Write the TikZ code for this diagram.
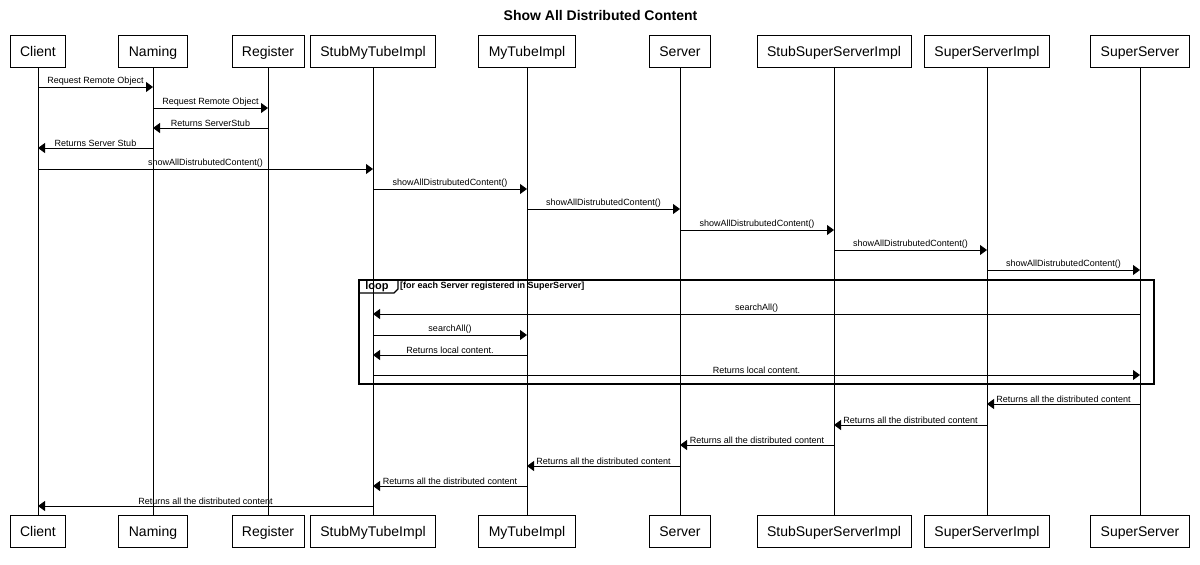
\documentclass[tikz,border=0pt]{standalone}
\usepackage{fontspec}
\setmainfont{Liberation Sans}
\usetikzlibrary{arrows.meta}

\begin{document}
\begin{tikzpicture}[x=1pt,y=-1pt,
		obj/.style={draw, line width=0.8pt, inner xsep=10pt, minimum height=32pt, text height=10.5pt, text depth=0pt, font=\fontsize{14}{16}\selectfont},
		life/.style={line width=0.8pt},
		msg/.style={line width=0.8pt, -{Triangle[length=7pt,width=10pt]}},
		lbl/.style={font=\fontsize{9}{10}\selectfont, inner sep=1pt}]
				\useasboundingbox (0,0) rectangle (1200,565);
				\node[font=\bfseries\fontsize{14}{16}\selectfont] (title) at (600.5,15) {Show All Distributed Content};
				
				% participants, top and bottom
				\node[obj] (client) at (38,51) {Client};
				\node[obj] (naming) at (153,51) {Naming};
				\node[obj] (register) at (268,51) {Register};
				\node[obj] (stub) at (373,51) {StubMyTubeImpl};
				\node[obj] (tube) at (527,51) {MyTubeImpl};
				\node[obj] (server) at (680,51) {Server};
				\node[obj] (stubsuper) at (834,51) {StubSuperServerImpl};
				\node[obj] (superimpl) at (987,51) {SuperServerImpl};
				\node[obj] (super) at (1140,51) {SuperServer};
				
				\node[obj] (client2) at (38,531.5) {Client};
				\node[obj] (naming2) at (153,531.5) {Naming};
				\node[obj] (register2) at (268,531.5) {Register};
				\node[obj] (stub2) at (373,531.5) {StubMyTubeImpl};
				\node[obj] (tube2) at (527,531.5) {MyTubeImpl};
				\node[obj] (server2) at (680,531.5) {Server};
				\node[obj] (stubsuper2) at (834,531.5) {StubSuperServerImpl};
				\node[obj] (superimpl2) at (987,531.5) {SuperServerImpl};
				\node[obj] (super2) at (1140,531.5) {SuperServer};
				
				% lifelines
				\draw[life] (client) -- (client2);
				\draw[life] (naming) -- (naming2);
				\draw[life] (register) -- (register2);
				\draw[life] (stub) -- (stub2);
				\draw[life] (tube) -- (tube2);
				\draw[life] (server) -- (server2);
				\draw[life] (stubsuper) -- (stubsuper2);
				\draw[life] (superimpl) -- (superimpl2);
				\draw[life] (super) -- (super2);
				
				% message rows
				\coordinate (r1) at (0,87);
				\coordinate (r2) at (0,108);
				\coordinate (r3) at (0,128);
				\coordinate (r4) at (0,148);
				\coordinate (r5) at (0,169);
				\coordinate (r6) at (0,189);
				\coordinate (r7) at (0,209);
				\coordinate (r8) at (0,230);
				\coordinate (r9) at (0,250);
				\coordinate (r10) at (0,270);
				\coordinate (r11) at (0,314);
				\coordinate (r12) at (0,335);
				\coordinate (r13) at (0,355);
				\coordinate (r14) at (0,375);
				\coordinate (r15) at (0,404);
				\coordinate (r16) at (0,425);
				\coordinate (r17) at (0,445);
				\coordinate (r18) at (0,466);
				\coordinate (r19) at (0,486);
				\coordinate (r20) at (0,506);
				
				\draw[msg] (client |- r1) -- (naming |- r1) node[midway,above,lbl] {Request Remote Object};
				\draw[msg] (naming |- r2) -- (register |- r2) node[midway,above,lbl] {Request Remote Object};
				\draw[msg] (register |- r3) -- (naming |- r3) node[midway,above,lbl] {Returns ServerStub};
				\draw[msg] (naming |- r4) -- (client |- r4) node[midway,above,lbl] {Returns Server Stub};
				\draw[msg] (client |- r5) -- (stub |- r5) node[midway,above,lbl] {showAllDistrubutedContent()};
				\draw[msg] (stub |- r6) -- (tube |- r6) node[midway,above,lbl] {showAllDistrubutedContent()};
				\draw[msg] (tube |- r7) -- (server |- r7) node[midway,above,lbl] {showAllDistrubutedContent()};
				\draw[msg] (server |- r8) -- (stubsuper |- r8) node[midway,above,lbl] {showAllDistrubutedContent()};
				\draw[msg] (stubsuper |- r9) -- (superimpl |- r9) node[midway,above,lbl] {showAllDistrubutedContent()};
				\draw[msg] (superimpl |- r10) -- (super |- r10) node[midway,above,lbl] {showAllDistrubutedContent()};
				
				% loop frame
				\draw[line width=1.5pt] (359,280) rectangle (1154,384);
				\draw[line width=1.2pt] (359,293) -- (394,293) -- (398,289) -- (398,280);
				\node[anchor=base, font=\bfseries\fontsize{11}{13}\selectfont, inner sep=0pt] (loop) at (377,289) {loop};
				\node[anchor=base west, font=\bfseries\fontsize{9}{10}\selectfont, inner sep=0pt] (cond) at (400,288.5) {[for each Server registered in SuperServer]};
				
				\draw[msg] (super |- r11) -- (stub |- r11) node[midway,above,lbl] {searchAll()};
				\draw[msg] (stub |- r12) -- (tube |- r12) node[midway,above,lbl] {searchAll()};
				\draw[msg] (tube |- r13) -- (stub |- r13) node[midway,above,lbl] {Returns local content.};
				\draw[msg] (stub |- r14) -- (super |- r14) node[midway,above,lbl] {Returns local content.};
				
				\draw[msg] (super |- r15) -- (superimpl |- r15) node[midway,above,lbl] {Returns all the distributed content};
				\draw[msg] (superimpl |- r16) -- (stubsuper |- r16) node[midway,above,lbl] {Returns all the distributed content};
				\draw[msg] (stubsuper |- r17) -- (server |- r17) node[midway,above,lbl] {Returns all the distributed content};
				\draw[msg] (server |- r18) -- (tube |- r18) node[midway,above,lbl] {Returns all the distributed content};
				\draw[msg] (tube |- r19) -- (stub |- r19) node[midway,above,lbl] {Returns all the distributed content};
				\draw[msg] (stub |- r20) -- (client |- r20) node[midway,above,lbl] {Returns all the distributed content};
			\end{tikzpicture}
\end{document}
